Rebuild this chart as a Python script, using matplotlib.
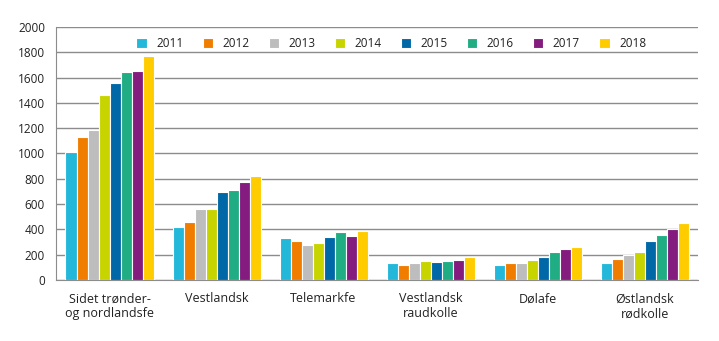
import matplotlib
matplotlib.use('Agg')
import matplotlib.pyplot as plt
import numpy as np

plt.rcParams['font.family'] = ['Open Sans', 'DejaVu Sans']

categories = ['Sidet trønder-\nog nordlandsfe', 'Vestlandsk', 'Telemarkfe',
              'Vestlandsk\nraudkolle', 'Dølafe', 'Østlandsk\nrødkolle']
years = ['2011', '2012', '2013', '2014', '2015', '2016', '2017', '2018']
values = {
    '2011': [1012, 419, 332, 132, 121, 132],
    '2012': [1130, 456, 306, 121, 132, 166],
    '2013': [1183, 559, 277, 132, 132, 195],
    '2014': [1462, 558, 292, 150, 158, 221],
    '2015': [1555, 693, 340, 142, 184, 306],
    '2016': [1647, 709, 379, 150, 221, 356],
    '2017': [1655, 775, 348, 158, 242, 401],
    '2018': [1773, 822, 385, 184, 258, 448],
}
colors = ['#23B8D9', '#F07D00', '#BDBDBD', '#C8D400',
          '#0068A7', '#20AD84', '#831C7E', '#FFCC00']

fig = plt.figure(figsize=(7.19, 3.41), dpi=100)
ax = fig.add_axes([0.078, 0.179, 0.893, 0.742])

x = np.arange(len(categories))
w = 0.103
for i, yr in enumerate(years):
    ax.bar(x + (i - 3.5) * w, values[yr], width=w, color=colors[i],
           edgecolor='white', linewidth=0.8, label=yr, zorder=3)

ax.set_xlim(-0.5, len(categories) - 0.5)
ax.set_ylim(0, 2000)
ax.set_yticks(range(0, 2001, 200))
ax.yaxis.grid(True, color='#8c8c8c', linewidth=1.0, zorder=0)
ax.set_axisbelow(True)
for s in ['top', 'right']:
    ax.spines[s].set_visible(False)
ax.spines['left'].set_color('#8c8c8c')
ax.spines['bottom'].set_color('#8c8c8c')
ax.tick_params(axis='both', length=0, labelsize=8.5, colors='#222222')
ax.tick_params(axis='y', pad=8)
ax.tick_params(axis='x', pad=9)
ax.set_xticks(x)
ax.set_xticklabels(categories, fontsize=9)

leg = ax.legend(loc='center', bbox_to_anchor=(0.522, 0.935), ncol=8, frameon=False,
                fontsize=8.5, handlelength=0.9, handleheight=0.9, columnspacing=1.6,
                handletextpad=0.8)
for t in leg.get_texts():
    t.set_color('#222222')

fig.savefig('out.png', dpi=100)
